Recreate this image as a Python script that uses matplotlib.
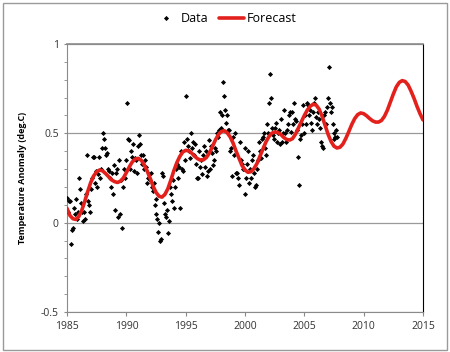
import numpy as np
import matplotlib
matplotlib.use("Agg")
import matplotlib.pyplot as plt
from matplotlib.patches import Rectangle
from matplotlib.ticker import MultipleLocator

# monthly temperature anomalies, one row per year (1985..2007)
data_rows = [
    [0.14, 0.06, 0.12, 0.12, -0.12, -0.04, -0.03, 0.08, 0.05, 0.13, 0.02, 0.06],  # 1985
    [0.25, 0.19, 0.11, 0.06, 0.01, 0.06, 0.02, 0.16, 0.38, 0.12, 0.10, 0.06],     # 1986
    [0.19, 0.25, 0.37, 0.37, 0.22, 0.29, 0.20, 0.27, 0.37, 0.25, 0.30, 0.42],     # 1987
    [0.50, 0.47, 0.42, 0.38, 0.39, 0.30, 0.29, 0.25, 0.20, 0.28, 0.16, 0.32],     # 1988
    [0.07, 0.28, 0.30, 0.03, 0.35, 0.05, 0.24, -0.03, 0.20, 0.30, 0.25, 0.35],    # 1989
    [0.67, 0.47, 0.46, 0.30, 0.40, 0.37, 0.44, 0.29, 0.36, 0.35, 0.28, 0.43],     # 1990
    [0.49, 0.44, 0.38, 0.33, 0.38, 0.30, 0.35, 0.31, 0.22, 0.25, 0.27, 0.24],     # 1991
    [0.28, 0.20, 0.18, 0.22, 0.10, 0.13, 0.05, 0.02, -0.05, 0.00, -0.10, -0.09],  # 1992
    [0.28, 0.26, 0.11, 0.05, 0.03, 0.07, -0.06, 0.01, 0.20, 0.16, 0.12, 0.24],    # 1993
    [0.08, 0.20, 0.30, 0.33, 0.25, 0.31, 0.08, 0.40, 0.30, 0.29, 0.45, 0.35],     # 1994
    [0.71, 0.47, 0.43, 0.40, 0.36, 0.50, 0.42, 0.45, 0.38, 0.44, 0.33, 0.25],     # 1995
    [0.25, 0.40, 0.31, 0.35, 0.27, 0.38, 0.43, 0.31, 0.40, 0.26, 0.29, 0.46],     # 1996
    [0.30, 0.43, 0.39, 0.32, 0.35, 0.42, 0.40, 0.50, 0.48, 0.52, 0.62, 0.53],     # 1997
    [0.60, 0.79, 0.71, 0.63, 0.56, 0.60, 0.52, 0.52, 0.40, 0.42, 0.26, 0.48],     # 1998
    [0.38, 0.50, 0.28, 0.28, 0.25, 0.21, 0.45, 0.35, 0.33, 0.30, 0.30, 0.42],     # 1999
    [0.16, 0.25, 0.33, 0.40, 0.22, 0.30, 0.25, 0.35, 0.38, 0.28, 0.20, 0.21],     # 2000
    [0.30, 0.35, 0.45, 0.40, 0.36, 0.47, 0.48, 0.50, 0.42, 0.38, 0.55, 0.50],     # 2001
    [0.67, 0.83, 0.70, 0.53, 0.49, 0.47, 0.53, 0.56, 0.45, 0.50, 0.52, 0.44],     # 2002
    [0.58, 0.45, 0.50, 0.63, 0.50, 0.45, 0.52, 0.55, 0.60, 0.62, 0.51, 0.62],     # 2003
    [0.55, 0.67, 0.58, 0.57, 0.52, 0.37, 0.21, 0.47, 0.49, 0.55, 0.66, 0.50],     # 2004
    [0.60, 0.55, 0.67, 0.66, 0.60, 0.63, 0.56, 0.52, 0.62, 0.67, 0.70, 0.59],     # 2005
    [0.55, 0.62, 0.58, 0.53, 0.45, 0.43, 0.42, 0.60, 0.62, 0.55, 0.65, 0.70],     # 2006
    [0.87, 0.67, 0.62, 0.65, 0.55, 0.50, 0.47, 0.48, 0.52, 0.48],                 # 2007
]

# forecast curve, read every quarter year 1985..2015
forecast_years = [1985 + 0.25 * i for i in range(121)]
forecast_vals = [
    0.080, 0.040, 0.022, 0.018, 0.035, 0.070, 0.120, 0.175, 0.225, 0.262,  # 1985-1987.25
    0.285, 0.295, 0.290, 0.275, 0.258, 0.240, 0.230, 0.225, 0.232, 0.250,  # 1987.5-1989.75
    0.280, 0.312, 0.340, 0.356, 0.360, 0.350, 0.325, 0.290, 0.250, 0.205,  # 1990-1992.25
    0.170, 0.148, 0.143, 0.158, 0.190, 0.238, 0.290, 0.335, 0.370, 0.395,  # 1992.5-1994.75
    0.405, 0.402, 0.390, 0.372, 0.358, 0.350, 0.352, 0.365, 0.390, 0.425,  # 1995-1997.25
    0.462, 0.492, 0.510, 0.515, 0.503, 0.480, 0.445, 0.400, 0.360, 0.320,  # 1997.5-1999.75
    0.295, 0.282, 0.285, 0.302, 0.330, 0.370, 0.410, 0.450, 0.480, 0.500,  # 2000-2002.25
    0.508, 0.505, 0.495, 0.478, 0.466, 0.462, 0.470, 0.495, 0.530, 0.565,  # 2002.5-2004.75
    0.600, 0.630, 0.652, 0.663, 0.658, 0.635, 0.595, 0.545, 0.495, 0.455,  # 2005-2007.25
    0.428, 0.418, 0.422, 0.440, 0.472, 0.510, 0.550, 0.583, 0.605, 0.614,  # 2007.5-2009.75
    0.610, 0.598, 0.583, 0.570, 0.563, 0.563, 0.572, 0.595, 0.630, 0.675,  # 2010-2012.25
    0.720, 0.760, 0.785, 0.795, 0.790, 0.770, 0.735, 0.695, 0.650, 0.610,  # 2012.5-2014.75
    0.575,                                                                  # 2015
]

data_x, data_y = [], []
for i, row in enumerate(data_rows):
    for m, v in enumerate(row):
        data_x.append(1985 + i + (m + 0.5) / 12)
        data_y.append(v)

plt.rcParams['font.family'] = ['Open Sans', 'DejaVu Sans']

fig = plt.figure(figsize=(4.5, 3.52), dpi=100)
ax = fig.add_axes([67 / 450, 40 / 352, 356 / 450, 268 / 352])

ax.plot(data_x, data_y, 'D', color='black', ms=2.6, mew=0, label='Data', zorder=3)
ax.plot(forecast_years, forecast_vals, color='#e3201b', lw=2.6, label='Forecast',
        solid_capstyle='round', solid_joinstyle='round', zorder=4)

ax.set_xlim(1985, 2015)
ax.set_ylim(-0.5, 1)
ax.xaxis.set_major_locator(MultipleLocator(5))
ax.yaxis.set_minor_locator(MultipleLocator(0.1))
ax.set_yticks([-0.5, 0, 0.5, 1])
ax.set_yticklabels(['-0.5', '0', '0.5', '1'])
ax.tick_params(axis='both', labelsize=7.5, colors='#333333', length=3, width=0.8)
ax.tick_params(axis='y', which='both', direction='out', length=2.5, color='#888888')
ax.tick_params(axis='x', color='#888888')
ax.grid(axis='y', color='#9a9a9a', lw=0.9)
ax.set_axisbelow(True)

for side in ['left', 'bottom', 'top']:
    ax.spines[side].set_color('#8a8a8a')
ax.spines['right'].set_color('black')
ax.spines['top'].set_linewidth(1.2)

ax.set_ylabel('Temperature Anomaly (deg.C)', fontsize=6.5, fontweight='bold', labelpad=10)

fig.legend(loc='center', bbox_to_anchor=(0.5, 1 - 19 / 352), ncol=2, frameon=False,
           fontsize=9, handlelength=2.0, columnspacing=0.8, handletextpad=0.2)

fig.patches.append(Rectangle((3 / 450, 2 / 352), 444 / 450, 347 / 352, transform=fig.transFigure,
                             fill=False, edgecolor='#9a9a9a', lw=1.0))

fig.savefig('out.png', dpi=100)
